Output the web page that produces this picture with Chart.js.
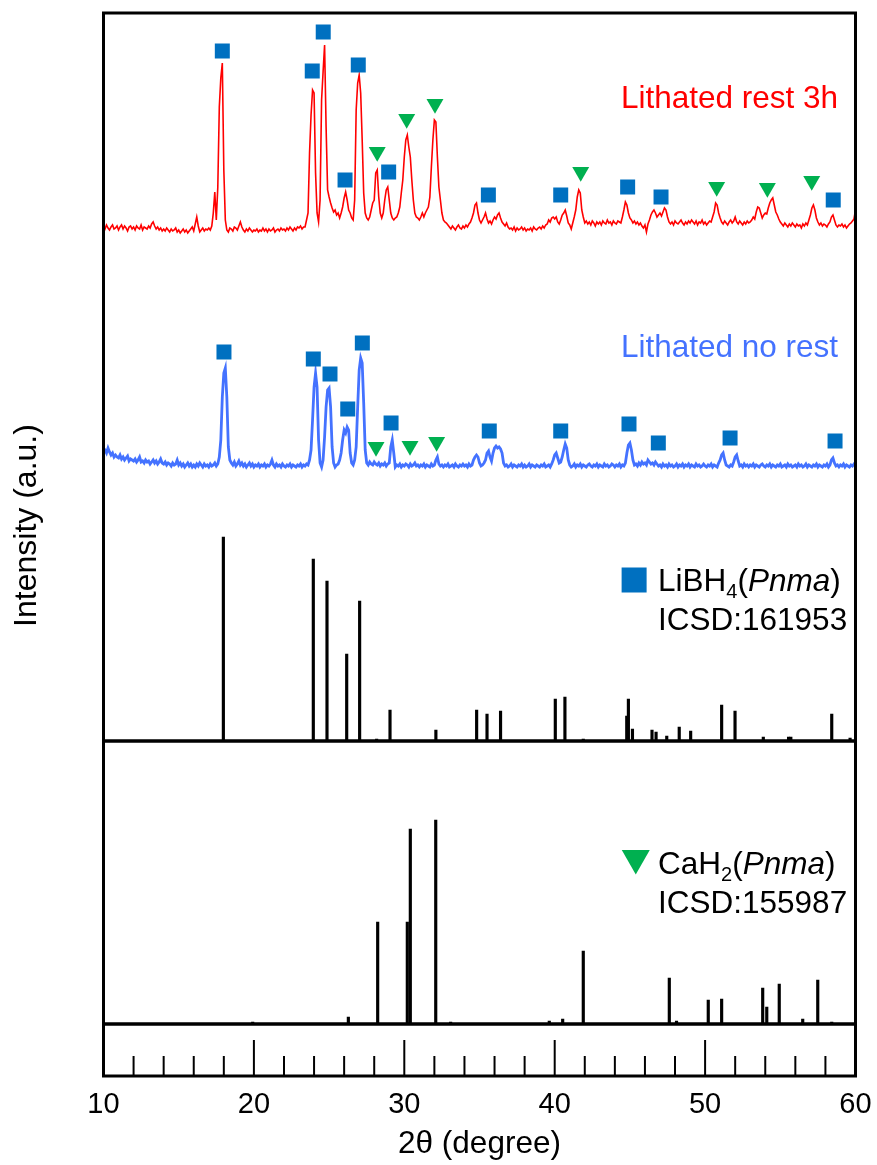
<!DOCTYPE html>
<html>
<head>
<meta charset="utf-8">
<script src="https://cdn.jsdelivr.net/npm/chart.js"></script>
<style>
  html, body { margin: 0; padding: 0; background: #fff; }
  canvas { display: block; }
</style>
</head>
<body>
<canvas id="xrdChart" width="877" height="1165"></canvas>
<script>
// 2θ scan: 10 - 60 deg, one reading every 0.1 deg
const scanStart = 10
const scanStep = 0.1

// Lithated rest 3h : counts above its own baseline
const restedCounts = [
  2, -1, 3, 0, -2, 1, 3, -1, 0, 2,
  -2, 1, 3, -1, 2, 0, -3, 1, 2, -1,
  1, -2, 2, 0, -1, 3, -2, 1, 0, -1,
  2, 0, 4, 6, 2, -1, 1, -2, 0, -3,
  -1, -3, 0, -2, -4, -1, -3, -2, 0, -4,
  -2, -5, -3, -1, -4, -2, -5, -3, -1, 1,
  -3, 4, 11, 2, -4, -2, 0, -3, -1, -2,
  0, -2, 2, 15, 36, 8, 41, 121, 150, 165,
  58, 8, -2, -4, 0, -1, -3, 1, 0, -2,
  2, 6, 1, -2, -4, -1, -3, 0, -2, -4,
  -2, -3, -1, -4, -2, -3, 0, -3, -1, -4,
  -1, -3, -2, 0, -4, -2, -1, -3, 0, -2,
  -1, -3, 0, -2, 1, -1, -3, 0, -2, 1,
  0, 2, -1, 1, 1, 8, 15, 75, 113, 138,
  135, 55, 15, 6, 28, 128, 156, 183, 101, 38,
  31, 25, 20, 16, 18, 13, 15, 10, 15, 21,
  30, 36, 28, 18, 15, 10, 8, 28, 118, 145,
  153, 135, 88, 35, 15, 10, 8, 11, 18, 25,
  28, 55, 58, 31, 15, 10, 15, 28, 38, 41,
  28, 15, 10, 8, 10, 11, 15, 21, 35, 48,
  71, 88, 93, 81, 71, 48, 28, 15, 11, 10,
  8, 11, 15, 11, 15, 18, 21, 31, 61, 88,
  108, 106, 71, 41, 28, 15, 8, 6, 5, 3,
  1, -1, 2, 0, -2, 1, 3, 0, -1, 2,
  0, 3, 1, 4, 6, 10, 15, 23, 25, 15,
  8, 5, 8, 11, 15, 9, 5, 7, 4, 8,
  11, 9, 13, 15, 10, 6, 4, 2, 5, 1,
  -1, 0, -2, 1, -3, 0, -2, -1, 1, -2,
  0, -3, -1, -2, 0, -3, 1, -1, -2, 0,
  1, -1, 2, 0, 3, 4, 8, 6, 10, 11,
  9, 11, 6, 4, 8, 13, 15, 18, 12, 5,
  3, -1, 5, 11, 18, 31, 38, 35, 18, 11,
  5, 7, 4, 6, 3, 7, 5, 2, 6, 4,
  6, 3, 7, 5, 4, 8, 5, 6, 3, 7,
  5, 4, 7, 6, 5, 11, 18, 26, 23, 15,
  10, 8, 5, 7, 4, 6, 3, 5, 2, 0,
  3, -4, 4, 8, 13, 16, 18, 15, 11, 13,
  15, 12, 16, 20, 18, 11, 6, 4, 6, 3,
  7, 5, 4, 6, 8, 5, 3, 6, 4, 7,
  5, 8, 6, 4, 7, 3, 6, 5, 8, 4,
  6, 3, 5, 7, 6, 11, 16, 25, 23, 15,
  10, 6, 4, 7, 5, 3, 6, 8, 5, 7,
  11, 6, 4, 7, 5, 3, 6, 4, 7, 5,
  6, 8, 11, 9, 16, 21, 20, 15, 10, 13,
  15, 14, 20, 25, 28, 30, 23, 16, 13, 9,
  6, 4, 2, 5, 3, 1, 4, 2, 5, 3,
  1, 4, 2, 3, 0, 4, 2, 5, 3, 8,
  13, 20, 23, 18, 10, 6, 3, 5, 2, 4,
  3, 1, 4, 6, 11, 13, 8, 3, 1, 3,
  2, 4, 1, 3, 0, 2, 4, 5, 7, 9,
  18
]

// Lithated no rest : counts above its own baseline
const noRestCounts = [
  19, 17, 14, 19, 15, 12, 14, 10, 12, 10,
  9, 12, 8, 10, 7, 9, 11, 6, 8, 7,
  6, 8, 5, 7, 10, 5, 6, 4, 7, 5,
  6, 3, 5, 7, 4, 6, 3, 5, 8, 4,
  3, 5, 2, 4, 3, 1, 4, 2, 3, 7,
  2, 4, 1, 3, 0, 2, 4, 1, 3, 0,
  2, 0, 3, 1, 4, 2, 0, 3, 1, 2,
  0, 3, 1, 2, 4, 1, 3, 10, 27, 70,
  94, 99, 70, 20, 7, 4, 2, 5, 1, 3,
  6, 2, 4, 1, 3, 0, 2, 4, 1, 3,
  0, 2, 1, 3, 0, 2, 1, 3, 0, 2,
  1, 3, 7, 2, 0, 3, 1, 2, 0, 3,
  1, 0, 2, 1, 3, 0, 2, 1, 0, 2,
  1, 3, 0, 2, 1, 3, 2, 7, 17, 47,
  80, 94, 80, 27, 4, 0, 7, 30, 60, 77,
  79, 60, 20, 4, 0, 2, 3, 7, 14, 27,
  37, 34, 40, 37, 14, 4, 2, 7, 20, 60,
  97, 109, 104, 64, 17, 4, 2, 5, 3, 2,
  5, 3, 2, 4, 1, 3, 2, 4, 1, 3,
  4, 20, 27, 14, 0, 2, 1, 3, 0, 2,
  1, 3, 2, 0, 3, 1, 2, 4, 1, 2,
  0, 2, 1, 3, 0, 2, 1, 0, 3, 1,
  2, 7, 10, 3, 1, 2, 0, 2, 1, 3,
  0, 1, 2, 0, 3, 1, 0, 2, 1, 3,
  1, 2, 0, 3, 1, 2, 7, 10, 12, 10,
  4, 1, 2, 4, 7, 14, 16, 10, 6, 14,
  19, 21, 19, 20, 18, 14, 4, 1, 2, 0,
  1, 3, 0, 2, 1, 0, 2, 1, 3, 0,
  2, 0, 1, 3, 0, 2, 1, 0, 2, 1,
  0, 2, 1, 3, 0, 1, 2, 0, 3, 7,
  12, 14, 9, 4, 5, 10, 17, 23, 19, 7,
  2, 0, 1, 3, 0, 2, 1, 3, 0, 2,
  1, 0, 2, 3, 1, 0, 2, 1, 3, 0,
  2, 1, 0, 3, 1, 2, 0, 1, 3, 2,
  0, 2, 1, 3, 0, 2, 1, 4, 14, 22,
  24, 17, 7, 2, 3, 1, 4, 2, 5, 3,
  4, 2, 7, 5, 3, 4, 2, 5, 3, 1,
  2, 0, 3, 1, 2, 0, 3, 1, 2, 0,
  1, 3, 0, 2, 1, 3, 0, 2, 1, 3,
  0, 2, 1, 0, 3, 1, 2, 0, 1, 3,
  1, 0, 2, 1, 3, 0, 2, 1, 0, 4,
  7, 12, 14, 7, 2, 1, 0, 2, 1, 5,
  10, 12, 6, 1, 2, 0, 3, 1, 2, 0,
  2, 1, 3, 0, 2, 1, 0, 2, 3, 1,
  0, 2, 1, 3, 0, 2, 1, 0, 2, 1,
  3, 0, 1, 2, 0, 3, 1, 2, 0, 1,
  2, 0, 3, 1, 2, 0, 1, 3, 0, 2,
  1, 0, 2, 1, 3, 0, 2, 1, 0, 2,
  1, 3, 0, 2, 7, 9, 4, 1, 2, 0,
  2, 1, 3, 0, 2, 1, 0, 2, 1, 3,
  1
]

// vertical offsets of the two patterns in the upper panel
const restedOffset = 513
const noRestOffset = 274

// reference sticks (ICSD)
const libh4Pos = [17.97, 23.95, 24.86, 26.17, 27.03, 28.16, 29.05, 32.1, 34.81, 35.5, 36.4, 40.04, 40.68, 41.9, 44.79, 44.9, 45.17, 46.47, 46.74, 47.45, 48.28, 49.04, 51.1, 51.99, 53.87, 55.55, 55.7, 58.42, 59.64]
const libh4Int = [204, 182, 160, 87, 140, 2, 31, 11, 31, 27, 30, 42, 44, 2, 25, 42, 12, 11, 9, 5, 14, 10, 36, 30, 4, 4, 4, 27, 3]
const cah2Pos = [19.92, 26.28, 28.23, 30.2, 30.4, 32.09, 33.08, 39.64, 40.53, 41.9, 47.62, 48.1, 50.21, 51.1, 53.83, 54.1, 54.93, 56.49, 57.49, 58.42]
const cah2Int = [2, 7, 102, 102, 195, 204, 2, 3, 5, 73, 46, 3, 24, 25, 36, 17, 40, 5, 44, 2]

// phase markers [2θ, height in upper panel]
const restedLiBH4Marks = [[17.9, 690], [23.88, 670], [24.61, 709], [26.06, 561], [26.94, 676], [28.96, 569], [35.59, 546], [40.4, 546], [44.85, 554], [47.07, 544], [58.52, 541]]
const restedCaH2Marks = [[28.2, 589], [30.16, 622], [32.04, 637], [41.73, 569], [50.77, 554], [54.14, 553], [57.09, 560]]
const noRestLiBH4Marks = [[18.01, 389], [23.95, 382], [25.06, 367], [26.24, 332], [27.21, 398], [29.12, 318], [35.65, 310], [40.4, 310], [44.94, 317], [46.89, 298], [51.66, 303], [58.64, 300]]
const noRestCaH2Marks = [[28.12, 294], [30.38, 295], [32.15, 299]]

const FONT = "'Liberation Sans', Arial, sans-serif"
const RED = '#FF0000'
const BLUE_LINE = '#4472FF'
const LIBH4_BLUE = '#0070C0'
const CAH2_GREEN = '#00B050'

const toPoints = (counts, offset) => counts.map((h, i) => ({ x: scanStart + i * scanStep, y: offset + h }))
const toMarks = (pairs) => pairs.map(([x, y]) => ({ x, y }))
const toSticks = (pos, ints) => pos.map((x, i) => ({ x, y: ints[i] }))

const squareMarks = (data) => ({
  type: 'line', showLine: false, data: toMarks(data), yAxisID: 'yTop',
  pointStyle: 'rect', pointRadius: 10.6, pointBorderWidth: 0,
  pointBackgroundColor: LIBH4_BLUE, pointBorderColor: LIBH4_BLUE
})
const triangleMarks = (data) => ({
  type: 'line', showLine: false, data: toMarks(data), yAxisID: 'yTop',
  pointStyle: 'triangle', pointRotation: 180, pointRadius: 9.8, pointBorderWidth: 0,
  pointBackgroundColor: CAH2_GREEN, pointBorderColor: CAH2_GREEN
})

// 枠線・下段の目盛り・注記テキスト
const panelDecor = {
  id: 'panelDecor',
  afterDraw(chart) {
    const { ctx, chartArea, scales } = chart
    const xs = scales.x
    ctx.save()
    ctx.strokeStyle = '#000'
    ctx.lineWidth = 3
    ;['yTop', 'yCa', 'yStrip'].forEach((id) => {
      const s = scales[id]
      ctx.strokeRect(chartArea.left, s.top, chartArea.right - chartArea.left, s.bottom - s.top)
    })

    // ticks pointing up inside the bottom strip
    const base = scales.yStrip.bottom
    ctx.lineWidth = 2
    xs.ticks.forEach((t) => {
      if (t.value <= xs.min || t.value >= xs.max) return
      const px = xs.getPixelForValue(t.value)
      const len = t.value % 10 === 0 ? 36 : 20
      ctx.beginPath()
      ctx.moveTo(px, base)
      ctx.lineTo(px, base - len)
      ctx.stroke()
    })

    // sample names
    ctx.textBaseline = 'alphabetic'
    ctx.textAlign = 'right'
    ctx.font = `31.5px ${FONT}`
    ctx.fillStyle = RED
    ctx.fillText('Lithated rest 3h', xs.getPixelForValue(58.84), scales.yTop.getPixelForValue(633))
    ctx.fillStyle = BLUE_LINE
    ctx.fillText('Lithated no rest', xs.getPixelForValue(58.84), scales.yTop.getPixelForValue(384.5))

    // phase legends
    const runs = (x, y, parts) => {
      ctx.textAlign = 'left'
      parts.forEach((p) => {
        ctx.font = p.font
        ctx.fillText(p.text, x, y + (p.dy || 0))
        x += ctx.measureText(p.text).width
      })
    }
    const normal = `31.5px ${FONT}`
    const italic = `italic 31.5px ${FONT}`
    const sub = `20px ${FONT}`
    const textX = xs.getPixelForValue(46.87)
    ctx.fillStyle = '#000'

    const yT = scales.yTop
    runs(textX, yT.getPixelForValue(150), [
      { text: 'LiBH', font: normal }, { text: '4', font: sub, dy: 7 },
      { text: '(', font: normal }, { text: 'Pnma', font: italic }, { text: ')', font: normal }
    ])
    runs(textX, yT.getPixelForValue(111), [{ text: 'ICSD:161953', font: normal }])
    const sqX = xs.getPixelForValue(45.28)
    const sqY = yT.getPixelForValue(161)
    ctx.fillStyle = LIBH4_BLUE
    ctx.fillRect(sqX - 12.5, sqY - 12.5, 25, 25)

    const yC = scales.yCa
    ctx.fillStyle = '#000'
    runs(textX, yC.getPixelForValue(150), [
      { text: 'CaH', font: normal }, { text: '2', font: sub, dy: 7 },
      { text: '(', font: normal }, { text: 'Pnma', font: italic }, { text: ')', font: normal }
    ])
    runs(textX, yC.getPixelForValue(111.5), [{ text: 'ICSD:155987', font: normal }])
    const trX = xs.getPixelForValue(45.39)
    const trTop = yC.getPixelForValue(174)
    ctx.fillStyle = CAH2_GREEN
    ctx.beginPath()
    ctx.moveTo(trX - 14, trTop)
    ctx.lineTo(trX + 14, trTop)
    ctx.lineTo(trX, trTop + 24.5)
    ctx.closePath()
    ctx.fill()

    // y title spans the whole figure height
    ctx.fillStyle = '#000'
    ctx.font = `32px ${FONT}`
    ctx.textAlign = 'center'
    ctx.translate(36, 525.5)
    ctx.rotate(-Math.PI / 2)
    ctx.fillText('Intensity (a.u.)', 0, 0)
    ctx.restore()
  }
}

const hiddenY = (max, weight) => ({
  type: 'linear', min: 0, max, stack: 'panels', stackWeight: weight, position: 'left',
  ticks: { display: false }, grid: { display: false, drawTicks: false }, border: { display: false }
})

document.addEventListener('DOMContentLoaded', () => {
  const ctx = document.querySelector('#xrdChart')
  Chart.defaults.font.family = FONT
  Chart.defaults.color = '#000'

  new Chart(ctx, {
    type: 'line',
    data: {
      datasets: [
        squareMarks(restedLiBH4Marks),
        triangleMarks(restedCaH2Marks),
        squareMarks(noRestLiBH4Marks),
        triangleMarks(noRestCaH2Marks),
        {
          data: toPoints(restedCounts, restedOffset), yAxisID: 'yTop',
          borderColor: RED, borderWidth: 1.6, pointRadius: 0, tension: 0
        },
        {
          data: toPoints(noRestCounts, noRestOffset), yAxisID: 'yTop',
          borderColor: BLUE_LINE, borderWidth: 2.8, pointRadius: 0, tension: 0
        },
        {
          type: 'bar', data: toSticks(libh4Pos, libh4Int), yAxisID: 'yTop',
          backgroundColor: '#000', borderWidth: 0, barThickness: 2.5, grouped: false
        },
        {
          type: 'bar', data: toSticks(cah2Pos, cah2Int), yAxisID: 'yCa',
          backgroundColor: '#000', borderWidth: 0, barThickness: 2.5, grouped: false
        }
      ]
    },
    options: {
      responsive: false,
      animation: false,
      events: [],
      layout: { autoPadding: false, padding: { top: 13, left: 103.5, right: 21.5, bottom: 11 } },
      plugins: { legend: { display: false }, tooltip: { enabled: false } },
      scales: {
        x: {
          type: 'linear', min: 10, max: 60, offset: false,
          grid: { display: false, drawTicks: false, offset: false },
          border: { display: false },
          ticks: {
            stepSize: 2, autoSkip: false, maxRotation: 0, padding: 5,
            font: { size: 29, lineHeight: 48 / 29 }, color: '#000',
            callback: (v) => (v % 10 === 0 ? String(v) : '')
          },
          title: {
            display: true, text: '2θ (degree)', color: '#000',
            font: { size: 31.5, lineHeight: 20 / 31.5 }, padding: { top: 0, bottom: 0 }
          },
          afterFit: (scale) => {
            // 端のラベルで描画領域が縮まないように
            scale.paddingLeft = 0
            scale.paddingRight = 0
          }
        },
        yStrip: hiddenY(52, 52),
        yCa: hiddenY(283, 283),
        yTop: hiddenY(728, 728)
      }
    },
    plugins: [panelDecor]
  })
})
</script>
</body>
</html>
